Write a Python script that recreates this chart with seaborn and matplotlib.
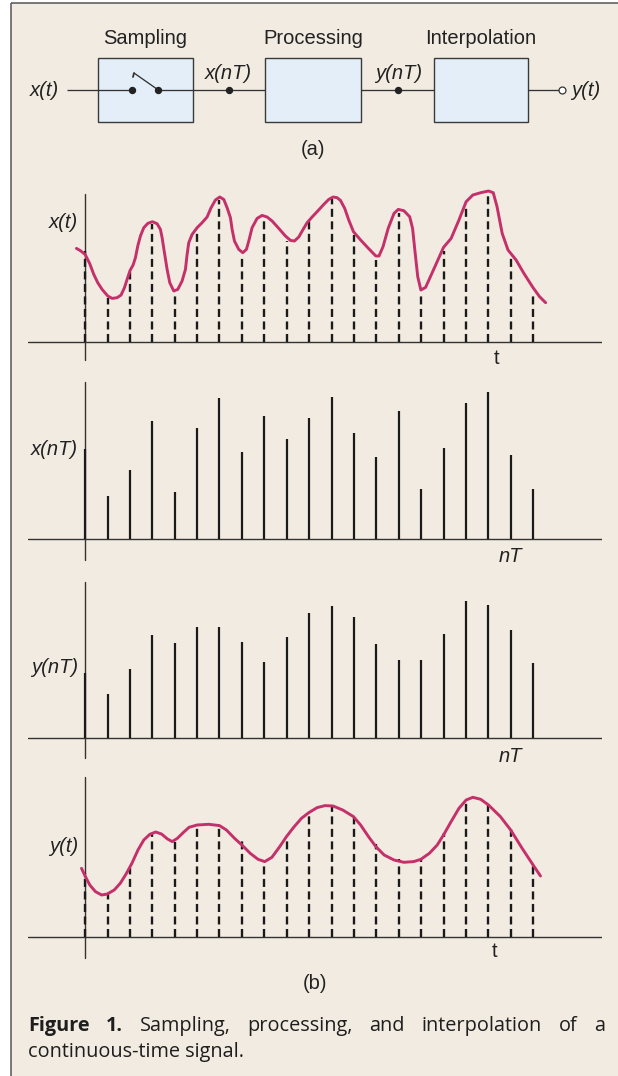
import numpy as np
import pandas as pd
import matplotlib
matplotlib.use("Agg")
import matplotlib.pyplot as plt
import seaborn as sns

# ---------------- data ----------------
n_samples = list(range(21))
# sampled input x(nT)
x_nT = [90.3, 43.3, 69.3, 118.0, 47.0, 111.3, 141.7, 87.0, 123.0, 100.3, 121.0,
        142.3, 106.3, 82.0, 128.7, 50.0, 91.0, 136.7, 147.0, 84.3, 50.0]
# processed output y(nT)
y_nT = [64.7, 43.7, 69.0, 103.0, 95.0, 111.3, 111.3, 96.3, 76.0, 100.7, 124.7,
        132.0, 120.7, 93.7, 78.0, 78.0, 104.3, 136.7, 132.7, 108.0, 75.0]
# continuous input x(t): time in sample periods, traced value
xt_t = [-0.387, -0.208, 0.0, 0.208, 0.387, 0.565, 0.759, 1.012, 1.205, 1.429, 1.607,
        1.756, 1.875, 2.009, 2.143, 2.247, 2.351, 2.470, 2.619, 2.798, 3.006, 3.214,
        3.363, 3.438, 3.542, 3.661, 3.780, 3.958, 4.137, 4.330, 4.479, 4.554, 4.628,
        4.777, 5.0, 5.223, 5.446, 5.625, 5.818, 6.012, 6.190, 6.339, 6.488, 6.563,
        6.667, 6.860, 7.039, 7.202, 7.307, 7.455, 7.679, 7.902, 8.125, 8.348, 8.646,
        8.943, 9.167, 9.345, 9.539, 9.732, 9.911, 10.134, 10.357, 10.655, 10.878,
        11.071, 11.25, 11.4, 11.59, 11.77, 11.98, 12.30, 12.65, 12.98, 13.12, 13.30,
        13.53, 13.79, 13.98, 14.23, 14.49, 14.62, 14.72, 14.85, 14.99, 15.20, 15.55,
        16.0, 16.34, 16.69, 17.01, 17.31, 17.66, 18.01, 18.22, 18.39, 18.62, 18.88,
        19.24, 19.59, 19.99, 20.29, 20.56]
xt_v = [93.3, 91.0, 87.3, 78.0, 67.3, 59.0, 52.3, 45.7, 43.3, 44.0, 46.7,
        54.0, 62.3, 71.3, 76.7, 84.0, 95.7, 105.7, 114.0, 118.3, 120.0, 118.0,
        112.3, 104.0, 89.0, 72.3, 59.0, 50.7, 52.3, 60.7, 72.3, 87.3, 99.0,
        107.3, 114.0, 119.0, 124.7, 134.0, 141.7, 144.7, 142.3, 134.0, 124.0, 112.3,
        100.7, 92.3, 89.0, 92.3, 100.7, 114.0, 123.3, 126.3, 124.7, 120.7, 113.3,
        105.7, 101.3, 100.7, 104.7, 112.3, 119.0, 124.7, 130.0, 137.3, 142.3,
        144.7, 144.0, 141.3, 133.3, 121.7, 110.0, 101.7, 93.3, 85.7, 85.7, 95.0,
        113.3, 128.3, 132.3, 131.0, 125.0, 113.3, 91.7, 65.0, 51.7, 54.3, 71.7,
        94.3, 103.3, 121.7, 140.0, 146.7, 149.0, 150.7, 149.0, 135.0, 108.3, 91.7,
        81.7, 68.3, 54.3, 45.0, 39.0]
# interpolated output y(t)
yt_t = [-0.16, 0.0, 0.21, 0.46, 0.74, 0.99, 1.30, 1.57, 1.83, 2.09, 2.36, 2.62, 2.89,
        3.15, 3.41, 3.68, 3.89, 4.12, 4.38, 4.64, 5.0, 5.52, 6.0, 6.31, 6.67, 7.0,
        7.37, 7.72, 8.02, 8.34, 8.69, 8.99, 9.31, 9.66, 9.99, 10.36, 10.71, 11.07,
        11.5, 11.98, 12.30, 12.65, 12.98, 13.35, 13.79, 14.23, 14.67, 14.99, 15.37,
        15.72, 16.0, 16.34, 16.69, 17.01, 17.31, 17.66, 18.01, 18.54, 19.0, 19.51,
        20.0, 20.33]
yt_v = [69.0, 61.3, 52.3, 45.7, 42.3, 43.3, 47.3, 54.0, 63.3, 74.0, 87.3, 97.3, 103.0,
        105.3, 103.3, 98.3, 95.7, 99.0, 104.7, 110.0, 112.3, 113.0, 111.7, 107.3, 99.0,
        92.3, 84.0, 78.0, 75.7, 80.0, 90.7, 100.7, 110.0, 119.0, 124.7, 129.7, 131.7,
        131.3, 127.3, 120.7, 112.3, 100.7, 90.7, 82.3, 77.3, 75.0, 75.7, 78.0, 84.0,
        92.3, 102.3, 115.7, 129.0, 137.3, 140.0, 138.0, 132.3, 120.7, 107.3, 89.0,
        72.3, 61.3]

block_titles = ["Sampling", "Processing", "Interpolation"]
signal_labels = ["x(t)", "x(nT)", "y(nT)", "y(t)"]
caption_bold = ["Figure", "1."]
caption_line1 = ["Sampling,", "processing,", "and", "interpolation", "of", "a"]
caption_line2 = "continuous-time signal."

# ---------------- style ----------------
sns.set_theme(style="white")
plt.rcParams["font.family"] = ["Liberation Sans", "DejaVu Sans"]

W, H = 618, 1076
BG = "#F2EBE1"
CURVE = "#C4306A"
BOXFILL = "#E4EEF8"
LAB = dict(family=["Liberation Sans", "DejaVu Sans"], color="#222222", fontsize=14.5)

fig = plt.figure(figsize=(W / 100, H / 100), dpi=100, facecolor="white")

bg = fig.add_axes([0, 0, 1, 1], zorder=0)
bg.set_xlim(0, W)
bg.set_ylim(H, 0)
bg.axis("off")
bg.add_patch(plt.Rectangle((11, 2.5), W - 11, H, facecolor=BG, edgecolor="none"))
bg.plot([11, W], [2.5, 2.5], color="#555555", lw=1.1, solid_capstyle="butt")
bg.plot([11, 11], [2.5, H], color="#555555", lw=1.1, solid_capstyle="butt")

# ---------------- block diagram (a) ----------------
boxes = [(97.7, 193.0), (265.0, 361.0), (433.5, 528.0)]
for (x0, x1), title in zip(boxes, block_titles):
    bg.add_patch(plt.Rectangle((x0, 58), x1 - x0, 64, facecolor=BOXFILL,
                               edgecolor="#3a3a3a", lw=1.0, zorder=2))
    bg.text((x0 + x1) / 2, 44, title, ha="center", va="baseline", **LAB)
ly = 90
lkw = dict(color="#333333", lw=0.95, zorder=3, solid_capstyle="butt")
bg.plot([67, 131.7], [ly, ly], **lkw)
bg.plot([158.3, 265], [ly, ly], **lkw)
bg.plot([361, 433.5], [ly, ly], **lkw)
bg.plot([528, 558.5], [ly, ly], **lkw)
bg.plot([158.3, 134.0], [ly, 73.0], **lkw)
bg.plot([134.0, 133.0], [73.0, 77.0], color="#333333", lw=1.3, zorder=3)
bg.plot([131.7, 158.3, 228.6, 398.0], [ly] * 4, "o", ms=4.3, color="#222222", zorder=4)
bg.plot([561.7], [ly], "o", ms=5, mfc="white", mec="#333333", mew=0.9, zorder=4)

ital = dict(LAB, fontstyle="italic")
bg.text(59, 96, "x(t)", ha="right", va="baseline", **ital)
bg.text(228, 79, "x(nT)", ha="center", va="baseline", **ital)
bg.text(399, 79, "y(nT)", ha="center", va="baseline", **ital)
bg.text(571, 96, "y(t)", ha="left", va="baseline", **ital)
bg.text(313, 155, "(a)", ha="center", va="baseline", **LAB)
bg.text(315, 989, "(b)", ha="center", va="baseline", **LAB)

# ---------------- signal panels (b) ----------------
X0PX, DX = 85.1, 22.4
xl = ((28 - X0PX) / DX, (602 - X0PX) / DX)


def panel(baseline, vtop, vbot):
    ax = fig.add_axes([28 / W, 1 - (baseline + 25) / H, (602 - 28) / W, 195 / H],
                      zorder=1)
    ax.set_facecolor("none")
    ax.set_xlim(*xl)
    ax.set_ylim(-25, 170)
    ax.axis("off")
    ax.axhline(0, color="#333333", lw=1.0, zorder=2)
    ax.plot([0, 0], [vbot, vtop], color="#333333", lw=1.0, zorder=2)
    return ax


dash = (0, (3.4, 1.9))

ax1 = panel(341.7, 147.7, -18.3)
ax1.vlines(n_samples, 0, x_nT, colors="#1a1a1a", lw=1.7, linestyles=dash, zorder=3)
sns.lineplot(x=xt_t, y=xt_v, ax=ax1, color=CURVE, lw=2.1, sort=False,
             estimator=None, zorder=4)

ax2 = panel(539.3, 157.6, -20.7)
ax2.vlines(n_samples, 0, x_nT, colors="#1a1a1a", lw=1.6, zorder=3)

ax3 = panel(738.0, 155.7, -20.0)
ax3.vlines(n_samples, 0, y_nT, colors="#1a1a1a", lw=1.6, zorder=3)

ax4 = panel(937.3, 160.0, -20.7)
ax4.vlines(n_samples, 0, y_nT, colors="#1a1a1a", lw=1.7, linestyles=dash, zorder=3)
sns.lineplot(x=yt_t, y=yt_v, ax=ax4, color=CURVE, lw=2.1, sort=False,
             estimator=None, zorder=4)

for a in (ax1, ax4):
    for l in a.get_lines():
        l.set_solid_capstyle("round")
        l.set_solid_joinstyle("round")
        l.set_antialiased(True)

bg.text(78, 228, signal_labels[0], ha="right", va="baseline", **ital)
bg.text(78, 455, signal_labels[1], ha="right", va="baseline", **ital)
bg.text(78, 673, signal_labels[2], ha="right", va="baseline", **ital)
bg.text(78, 852, signal_labels[3], ha="right", va="baseline", **ital)
bg.text(497, 364, "t", ha="center", va="baseline", **LAB)
bg.text(495, 957, "t", ha="center", va="baseline", **LAB)
bg.text(510, 562, "nT", ha="center", va="baseline", **ital)
bg.text(510, 762, "nT", ha="center", va="baseline", **ital)

# ---------------- caption (justified first line) ----------------
cap = dict(fontsize=14.3, color="#1e1e1e", family=["Open Sans", "DejaVu Sans"])
words = [(w, "bold") for w in caption_bold] + [(w, "normal") for w in caption_line1]
texts = [bg.text(0, 1031, w, ha="left", va="baseline", fontweight=fw, **cap)
         for w, fw in words]
fig.canvas.draw()
r = fig.canvas.get_renderer()
widths = [t.get_window_extent(r).width for t in texts]
left, right = 28.0, 605.0
gap = (right - left - sum(widths)) / (len(texts) - 1)
xpos = left
for t, wd in zip(texts, widths):
    t.set_x(xpos)
    xpos += wd + gap
bg.text(28, 1057.5, caption_line2, ha="left", va="baseline", **cap)

fig.savefig("out.png", dpi=100, facecolor="white")
